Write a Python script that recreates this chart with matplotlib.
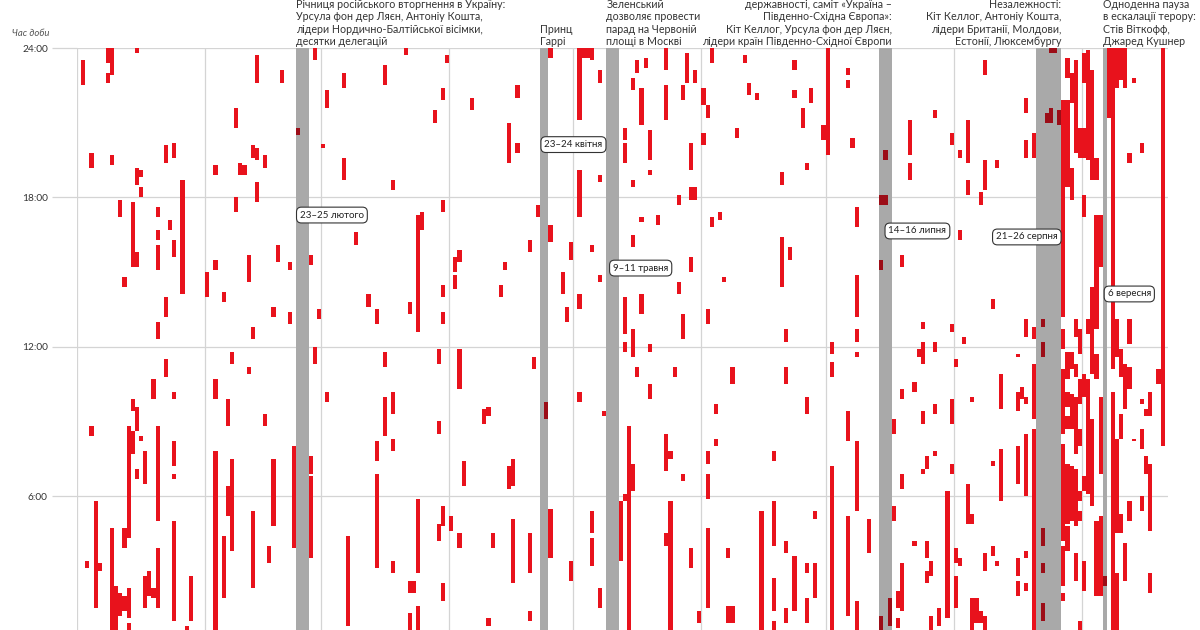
import datetime
import matplotlib
matplotlib.use("Agg")
import matplotlib.pyplot as plt
import matplotlib.transforms as mtransforms

# alerts per month: (day of month, start hour, end hour)
jan = [(2, 22.5, 23.5), (8, 23.4, 24), (8, 22.6, 23.0), (9, 22.9, 24), (15, 23.8, 24),
       (4, 19.2, 19.8), (4, 8.4, 8.8), (3, 3.1, 3.4),
       (9, 19.3, 19.7), (9, 0, 4.7), (10, 0, 2.4),
       (15, 18.5, 19.2), (15, 15.2, 15.8), (15, 8.6, 9.6), (15, 6.7, 7.1),
       (16, 18.8, 19.1), (16, 18.0, 18.4), (16, 8.2, 8.4),
       (22, 19.4, 20.1), (22, 13.2, 14.0), (22, 10.8, 11.5),
       (24, 19.6, 20.2), (24, 15.6, 16.3), (24, 9.9, 10.2), (24, 7.2, 8.2), (24, 6.7, 6.9), (24, 1.0, 5.0),
       (26, 14.1, 18.7),
       (11, 17.2, 17.9), (11, 1.2, 2.1),
       (14, 15.2, 17.8), (14, 9.4, 9.9), (14, 7.7, 8.6),
       (12, 14.4, 14.8), (12, 3.9, 4.7), (12, 1.4, 2.0),
       (20, 17.2, 17.6), (20, 16.3, 16.7), (20, 15.1, 16.1), (20, 12.3, 13.0), (20, 5.0, 8.8), (20, 1.5, 3.9),
       (23, 16.7, 17.1),
       (19, 9.9, 10.7), (19, 1.9, 2.3),
       (13, 4.3, 8.8), (13, 1.1, 2.3), (13, 0, 0.9),
       (17, 6.5, 7.8), (17, 1.5, 2.8),
       (18, 2.0, 3.0),
       (5, 1.5, 5.8), (6, 3.0, 3.3),
       (28, 1.0, 2.8), (27, 0, 0.8)]

feb = [(1, 14.0, 15.0),
       (3, 18.9, 19.3), (3, 15.1, 15.5), (3, 9.9, 10.7), (3, 0, 7.8),
       (5, 13.8, 14.2), (5, 1.9, 4.4),
       (6, 8.8, 9.9), (6, 5.2, 6.4),
       (7, 11.3, 11.8), (7, 3.8, 7.5), (7, 0, 0.3),
       (8, 20.8, 21.6), (8, 17.4, 18.0),
       (9, 18.9, 19.4), (10, 18.9, 19.3),
       (11, 14.6, 15.7), (11, 10.9, 11.2),
       (12, 19.6, 20.1), (12, 12.3, 12.8), (12, 2.3, 5.4),
       (13, 22.6, 23.7), (13, 19.5, 20.0), (13, 17.8, 18.6),
       (15, 19.2, 19.7), (15, 8.8, 9.3),
       (16, 3.3, 4.0),
       (17, 13.2, 13.6), (17, 4.8, 7.5),
       (18, 15.4, 16.1),
       (19, 22.6, 23.1),
       (21, 15.1, 15.4), (21, 12.9, 13.4),
       (22, 3.9, 8.0),
       (23, 20.5, 20.8),
       (26, 15.3, 15.7), (26, 6.9, 7.6), (26, 3.5, 6.8),
       (27, 23.5, 24.0), (27, 11.3, 12.0),
       (28, 13.1, 13.5)]

mar = [(1, 20.0, 20.15),
       (2, 21.6, 22.3), (2, 9.8, 10.2),
       (6, 22.4, 23.0), (6, 18.7, 19.6),
       (7, 0.8, 4.4),
       (9, 16.1, 16.6),
       (12, 13.6, 14.1),
       (14, 12.9, 13.5), (14, 7.4, 8.2), (14, 3.1, 6.9),
       (16, 22.5, 23.3), (16, 11.2, 11.8), (16, 8.4, 10.0),
       (18, 18.3, 18.7), (18, 9.3, 10.2), (18, 7.8, 8.3), (18, 2.9, 3.4),
       (21, 23.7, 24.0),
       (22, 13.3, 13.8), (22, 2.1, 2.6), (22, 0, 1.3),
       (23, 2.1, 2.6),
       (24, 12.6, 17.3), (24, 2.9, 5.9), (24, 0, 1.6),
       (25, 16.7, 17.4),
       (28, 21.0, 21.5),
       (29, 11.3, 11.9), (29, 8.5, 9.0), (29, 4.2, 4.9),
       (30, 21.9, 22.4), (30, 17.4, 17.9), (30, 14.0, 14.5), (30, 12.9, 13.4), (30, 4.8, 5.6), (30, 1.8, 2.5),
       (31, 23.4, 23.7)]

apr = [(1, 4.6, 5.2),
       (2, 15.0, 15.6), (2, 14.3, 14.9),
       (3, 15.4, 15.9), (3, 10.3, 11.9), (3, 3.9, 4.5),
       (4, 6.4, 7.4),
       (6, 21.5, 22.0),
       (9, 8.9, 9.5),
       (10, 9.2, 9.6), (10, 0.8, 1.1),
       (11, 3.9, 4.5),
       (13, 14.0, 14.5),
       (14, 15.1, 15.4),
       (15, 19.4, 21.0), (15, 6.3, 7.2),
       (16, 6.4, 7.5), (16, 2.5, 5.1),
       (17, 22.0, 22.5), (17, 19.8, 20.2),
       (20, 15.8, 16.3), (20, 2.9, 4.5), (20, 1.0, 1.4),
       (21, 11.1, 11.6),
       (22, 17.2, 17.7),
       (24, 9.1, 9.8),
       (25, 23.6, 24.0), (25, 16.2, 16.9), (25, 3.5, 5.5),
       (28, 14.1, 15.0),
       (29, 13.0, 13.6),
       (30, 15.5, 16.2), (30, 2.6, 3.4)]

may = [(2, 21.1, 24.0), (2, 17.2, 19.1), (2, 13.5, 14.1), (2, 9.8, 10.2),
       (3, 23.6, 24.0), (4, 23.6, 24.0),
       (5, 23.5, 24.0), (5, 15.8, 16.1), (5, 4.5, 5.4), (5, 3.2, 4.3),
       (7, 22.6, 23.1), (7, 18.6, 18.9), (7, 14.6, 14.9), (7, 1.5, 2.3),
       (8, 9.2, 9.4),
       (12, 3.4, 5.8),
       (13, 20.3, 20.8), (13, 19.4, 20.2), (13, 12.5, 14.0), (13, 11.8, 12.2), (13, 5.8, 6.1),
       (14, 0, 8.8),
       (15, 22.3, 22.8), (15, 18.4, 18.7), (15, 16.0, 16.5), (15, 11.6, 12.7), (15, 6.2, 7.3),
       (16, 23.0, 23.5), (16, 10.8, 11.2),
       (17, 20.9, 22.4), (17, 17.0, 17.2), (17, 13.3, 14.1),
       (18, 23.2, 23.6),
       (19, 19.5, 20.7), (19, 18.9, 19.1), (19, 11.8, 12.1), (19, 9.9, 10.5),
       (21, 16.9, 17.3),
       (23, 23.1, 24.0), (23, 21.1, 22.5), (23, 7.0, 8.5), (23, 4.0, 4.5),
       (24, 7.5, 7.8), (24, 0, 5.8),
       (25, 10.8, 11.2),
       (26, 17.7, 18.1), (26, 14.1, 14.6),
       (27, 21.9, 22.5), (27, 12.3, 13.3), (27, 6.6, 6.9),
       (28, 22.6, 23.8),
       (29, 19.1, 20.2), (29, 17.9, 18.4), (29, 15.0, 15.6), (29, 3.1, 3.9),
       (30, 22.6, 23.1), (30, 17.9, 18.4),
       (31, 0.9, 1.4)]

jun = [(1, 21.7, 22.4), (1, 20.1, 20.6),
       (2, 21.2, 21.7), (2, 12.9, 13.5), (2, 7.3, 7.8), (2, 5.9, 6.9), (2, 1.5, 4.7),
       (3, 23.4, 24.0), (3, 16.8, 17.2),
       (4, 9.3, 9.7), (4, 8.0, 8.3),
       (5, 17.1, 17.4),
       (6, 14.6, 14.8),
       (7, 3.5, 3.9), (7, 0.9, 1.6),
       (8, 10.5, 11.2), (8, 0.9, 1.6),
       (9, 20.4, 20.8),
       (11, 23.4, 23.7),
       (12, 22.1, 22.6),
       (14, 21.9, 22.2),
       (15, 0, 5.4),
       (18, 7.4, 7.8), (18, 4.0, 5.8), (18, 1.4, 2.7), (18, 0, 1.0),
       (20, 18.5, 19.0), (20, 14.4, 16.4),
       (21, 12.2, 12.7), (21, 10.5, 11.2), (21, 3.7, 4.2), (21, 0.9, 1.5),
       (22, 15.5, 16.0),
       (23, 23.1, 23.5), (23, 22.0, 22.3), (23, 1.4, 3.6),
       (25, 20.8, 21.6),
       (26, 19.1, 19.4), (26, 9.3, 10.0), (26, 2.9, 3.3), (26, 0.9, 1.9),
       (27, 21.8, 22.4),
       (28, 5.1, 5.4), (28, 1.9, 3.3),
       (30, 20.3, 20.9)]

jul = [(1, 19.7, 24.0),
       (2, 11.7, 12.2), (2, 10.8, 11.4), (2, 0, 7.2),
       (6, 22.9, 23.2), (6, 22.4, 22.7), (6, 8.2, 9.4), (6, 1.2, 5.2),
       (7, 20.0, 20.4),
       (8, 16.8, 17.6), (8, 13.2, 14.9), (8, 12.2, 12.7), (8, 11.6, 11.8), (8, 5.4, 8.2), (8, 0, 1.8),
       (11, 3.7, 5.1),
       (14, 17.7, 18.1), (14, 15.1, 15.5), (14, 0, 1.2),
       (15, 19.5, 19.9), (15, 17.7, 18.1),
       (16, 0.8, 1.9),
       (17, 8.5, 9.1), (17, 5.0, 5.6),
       (18, 1.5, 2.2), (18, 0.7, 1.1),
       (19, 15.2, 15.7), (19, 9.9, 10.3), (19, 6.3, 6.9), (19, 1.4, 3.3),
       (20, 0, 0.3),
       (21, 19.7, 21.1), (21, 18.7, 19.4),
       (22, 10.2, 10.6), (22, 4.0, 4.2),
       (23, 11.6, 11.9),
       (24, 12.7, 13.0), (24, 11.3, 12.2), (24, 8.9, 9.4), (24, 6.9, 7.1),
       (25, 7.1, 7.6), (25, 3.5, 4.2), (25, 2.5, 3.0),
       (26, 2.8, 3.4), (26, 0, 1.2),
       (27, 21.2, 21.5), (27, 11.8, 12.2), (27, 9.3, 9.7), (27, 7.6, 7.8),
       (28, 0.8, 1.5),
       (30, 1.1, 6.2),
       (31, 20.1, 20.6), (31, 12.6, 12.9), (31, 8.9, 9.9), (31, 6.9, 7.3)]

aug = [(1, 11.2, 11.5), (1, 3.3, 3.9), (1, 1.5, 2.8),
       (2, 19.6, 19.9), (2, 16.3, 16.7), (2, 3.2, 3.5),
       (3, 12.1, 12.4),
       (4, 19.4, 21.1), (4, 18.1, 18.7), (4, 4.9, 6.5),
       (5, 9.8, 10.0), (5, 4.9, 5.3), (5, 0, 1.9),
       (6, 0.9, 1.9),
       (7, 17.7, 18.2), (7, 0.9, 1.4),
       (8, 22.9, 23.5), (8, 18.3, 19.5), (8, 3.0, 3.7), (8, 0, 1.2),
       (10, 13.5, 13.9), (10, 7.2, 7.4), (10, 3.6, 4.0), (10, 0, 0.6),
       (11, 19.2, 19.5), (11, 3.2, 3.4), (11, 0, 0.6),
       (12, 9.5, 10.9), (12, 5.8, 7.9),
       (16, 11.6, 11.7), (16, 9.4, 10.2), (16, 6.5, 8.0), (16, 2.8, 3.5), (16, 2.0, 2.6),
       (17, 9.9, 10.4),
       (18, 21.4, 22.0), (18, 19.6, 20.3), (18, 12.4, 13.1), (18, 9.7, 10.0), (18, 6.0, 8.5), (18, 3.5, 3.8), (18, 2.2, 2.5),
       (20, 19.6, 20.6), (20, 12.3, 12.8), (20, 9.1, 11.3), (20, 0, 8.7),
       (22, 12.8, 13.1), (22, 11.6, 12.2), (22, 4.0, 4.7), (22, 2.9, 3.3), (22, 1.0, 1.7),
       (23, 21.0, 21.4),
       (24, 23.8, 24.0), (24, 21.0, 21.6),
       (25, 23.8, 24.0),
       (26, 20.9, 21.5),
       (27, 13.2, 21.9), (27, 11.9, 12.7), (27, 8.5, 11.1), (27, 4.2, 8.1), (27, 2.4, 4.0), (27, 1.8, 2.1),
       (28, 22.8, 23.6), (28, 18.4, 21.9), (28, 10.7, 11.8), (28, 9.6, 10.2), (28, 8.7, 9.2), (28, 4.9, 7.3), (28, 3.8, 4.8),
       (29, 21.8, 23.0), (29, 17.9, 19.2), (29, 11.1, 11.8), (29, 8.7, 10.1), (29, 5.0, 7.2),
       (30, 19.8, 23.5), (30, 12.4, 13.1), (30, 10.8, 11.3), (30, 7.7, 10.0), (30, 4.8, 7.1), (30, 2.6, 3.7),
       (31, 19.6, 20.8), (31, 11.7, 12.7), (31, 9.7, 10.7), (31, 8.0, 8.7), (31, 5.8, 6.2), (31, 5.0, 5.4), (31, 0.6, 1.0)]

sep = [(1, 22.6, 23.8), (1, 19.6, 20.8), (1, 17.2, 18.1), (1, 10.0, 10.9), (1, 6.2, 6.8), (1, 2.2, 3.4),
       (2, 19.5, 23.9), (2, 12.5, 13.1), (2, 6.1, 10.7),
       (3, 18.7, 23.1), (3, 10.9, 14.4), (3, 5.6, 9.1),
       (4, 18.7, 19.6), (4, 12.7, 17.3), (4, 10.7, 11.7), (4, 2.0, 5.0),
       (5, 15.2, 17.3), (5, 6.9, 10.0), (5, 2.0, 5.2),
       (6, 2.4, 2.8),
       (7, 21.2, 24.0),
       (8, 11.1, 24.0), (8, 0, 10.2),
       (9, 22.4, 24.0), (9, 11.6, 13.1), (9, 4.5, 8.3), (9, 0, 2.9),
       (10, 22.7, 24.0), (10, 10.8, 11.9), (10, 8.3, 9.3), (10, 4.5, 5.3),
       (11, 22.4, 24.0), (11, 9.5, 11.3), (11, 2.6, 4.1),
       (12, 19.4, 19.8), (12, 12.1, 13.1), (12, 10.3, 11.2), (12, 5.0, 5.8),
       (13, 22.6, 22.8), (13, 8.2, 8.3),
       (15, 19.8, 20.2), (15, 9.7, 9.9), (15, 7.9, 8.7), (15, 5.4, 6.0),
       (16, 9.2, 9.5), (16, 6.9, 7.6),
       (17, 9.2, 10.2), (17, 4.6, 7.3), (17, 2.1, 2.9),
       (19, 10.5, 11.1),
       (20, 8.0, 24.0)]

months = [jan, feb, mar, apr, may, jun, jul, aug, sep]

# visits: first day, last day, short label, label position (hour)
visit_first = [datetime.date(2025, 2, 23), datetime.date(2025, 4, 23), datetime.date(2025, 5, 9),
               datetime.date(2025, 7, 14), datetime.date(2025, 8, 21), datetime.date(2025, 9, 6)]
visit_last = [datetime.date(2025, 2, 25), datetime.date(2025, 4, 24), datetime.date(2025, 5, 11),
              datetime.date(2025, 7, 16), datetime.date(2025, 8, 26), datetime.date(2025, 9, 6)]
visit_labels = ["23–25 лютого", "23–24 квітня", "9–11 травня", "14–16 липня", "21–26 серпня", "6 вересня"]
visit_label_hour = [17.29, 20.12, 15.16, 16.65, 16.41, 14.12]
visit_label_shift = [0.9, 1.0, 1.6, 2.2, -9.8, 1.2]

visit_notes = [
    "Річниця російського вторгнення в Україну:\nУрсула фон дер Ляєн, Антоніу Кошта,\nлідери Нордично-Балтійської вісімки,\nдесятки делегацій",
    "Принц\nГаррі",
    "Зеленський\nдозволяє провести\nпарад на Червоній\nплощі в Москві",
    "державності, саміт «Україна –\nПівденно-Східна Європа»:\nКіт Келлог, Урсула фон дер Ляєн,\nлідери країн Південно-Східної Європи",
    "Незалежності:\nКіт Келлог, Антоніу Кошта,\nлідери Британії, Молдови,\nЕстонії, Люксембургу",
    "Одноденна пауза\nв ескалації терору:\nСтів Віткофф,\nДжаред Кушнер",
]
note_align = ["left", "left", "left", "right", "right", "left"]

y_ticks = [6, 12, 18, 24]
y_ticklabels = ["6:00", "12:00", "18:00", "24:00"]

START = datetime.date(2025, 1, 1)
RED = "#e8121c"
DARK = "#9c0d17"
BAND = "#a9a9a9"
GRID = "#d4d4d4"

plt.rcParams['font.family'] = ['Lato', 'DejaVu Sans']

fig = plt.figure(figsize=(12, 6.3), dpi=100)
ax = fig.add_axes([77 / 1200, -15.5 / 630, 1091 / 1200, 597.5 / 630])

first_idx = [(d - START).days for d in visit_first]
last_idx = [(d - START).days for d in visit_last]

# gray bands for the visits
for a, b in zip(first_idx, last_idx):
    ax.axvspan(a, b + 1, color=BAND, lw=0, zorder=1)

# alerts
xs, bottoms, heights, colors = [], [], [], []
for m, segs in enumerate(months):
    m_start = (datetime.date(2025, m + 1, 1) - START).days
    for day, h0, h1 in segs:
        x = m_start + day - 1
        in_visit = any(a <= x <= b for a, b in zip(first_idx, last_idx))
        xs.append(x)
        bottoms.append(h0)
        heights.append(h1 - h0)
        colors.append(DARK if in_visit else RED)
ax.bar(xs, heights, bottom=bottoms, width=1.0, align="edge", color=colors, lw=0, zorder=3)

# month grid
month_idx = [(datetime.date(2025, m, 1) - START).days for m in range(1, 10)]
for x in month_idx:
    ax.axvline(x, color=GRID, lw=0.9, zorder=0)

ax.set_xlim(0, 263.8)
ax.set_ylim(0, 24)
ax.set_yticks(y_ticks)
ax.set_yticklabels(y_ticklabels)
ax.set_xticks([])
ax.grid(axis="y", color=GRID, lw=0.9, zorder=0)
ax.set_axisbelow(True)
ax.tick_params(axis="y", length=18, color=GRID, width=0.9, pad=3, labelsize=7.3, labelcolor="#333333")
for s in ax.spines.values():
    s.set_visible(False)

fig.text(12 / 1200, 1 - 34 / 630, "Час доби", fontsize=6.8, style="italic", color="#555555", va="center")

# visit labels inside the chart
for a, txt, hr, sh in zip(first_idx, visit_labels, visit_label_hour, visit_label_shift):
    ax.text(a + sh, hr, txt, fontsize=7.0, color="#222222", va="center", ha="left", zorder=5,
            bbox=dict(boxstyle="round,pad=0.35,rounding_size=0.5", fc="white", ec="#333333", lw=0.8))

# notes above the chart
trans = mtransforms.blended_transform_factory(ax.transData, fig.transFigure)
for a, b, note, al in zip(first_idx, last_idx, visit_notes, note_align):
    x = a if al == "left" else b + 1
    fig.text(x, 1 - 47 / 630, note, transform=trans, ha=al, va="bottom", fontsize=7.7,
             color="#333333", linespacing=1.16, multialignment=al)

fig.savefig("out.png", dpi=100)
